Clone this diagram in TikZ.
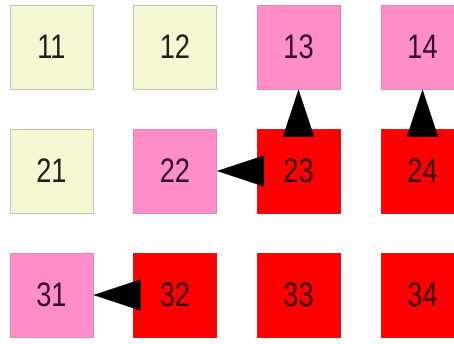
\documentclass[tikz,border=0pt]{standalone}
\usepackage{fontspec}
\setmainfont{Liberation Sans}
\usetikzlibrary{arrows.meta}
\definecolor{cyel}{HTML}{F4F7D2}
\definecolor{cyelb}{HTML}{C4C5B0}
\definecolor{cpink}{HTML}{FF8EC8}
\definecolor{cpinkb}{HTML}{E884B8}
\definecolor{cred}{HTML}{FF0000}
\definecolor{credb}{HTML}{E81010}
\newcommand\narrowtxt[1]{\scalebox{0.8}[1]{#1}}
\begin{document}
\begin{tikzpicture}[x=1pt,y=1pt,
  cell/.style={rectangle,minimum width=83pt,minimum height=84pt,inner sep=0pt,line width=1pt,font=\fontsize{34}{34}\selectfont},
  yel/.style={cell,fill=cyel,draw=cyelb,text=black!88},
  pnk/.style={cell,fill=cpink,draw=cpinkb,text={rgb,255:red,50;green,15;blue,38}},
  rd/.style={cell,fill=cred,draw=credb,text={rgb,255:red,55;green,0;blue,0}},
  bigarrow/.style={line width=0.4pt,draw=black,-{Triangle[length=47pt,width=31pt]}}]
\useasboundingbox (0,0) rectangle (454,-343);
\clip (0,0) rectangle (454,-343);
\fill[white] (0,0) rectangle (454,-343);
\node[yel] (n11) at (51.5,-47) {\narrowtxt{11}};
\node[yel] (n12) at (175,-47) {\narrowtxt{12}};
\node[pnk] (n13) at (298.5,-47) {\narrowtxt{13}};
\node[pnk] (n14) at (422.5,-47) {\narrowtxt{14}};
\node[yel] (n21) at (51.5,-171) {\narrowtxt{21}};
\node[pnk] (n22) at (175,-171) {\narrowtxt{22}};
\node[rd] (n23) at (298.5,-171) {\narrowtxt{23}};
\node[rd] (n24) at (422.5,-171) {\narrowtxt{24}};
\node[pnk] (n31) at (51.5,-295) {\narrowtxt{31}};
\node[rd] (n32) at (175,-295) {\narrowtxt{32}};
\node[rd] (n33) at (298.5,-295) {\narrowtxt{33}};
\node[rd] (n34) at (422.5,-295) {\narrowtxt{34}};
\draw[bigarrow] ([yshift=-8pt]n23.north) -- (n13.south);
\draw[bigarrow] ([yshift=-8pt]n24.north) -- (n14.south);
\draw[bigarrow] ([xshift=6pt]n23.west) -- (n22.east);
\draw[bigarrow] ([xshift=7pt]n32.west) -- (n31.east);
\end{tikzpicture}
\end{document}
